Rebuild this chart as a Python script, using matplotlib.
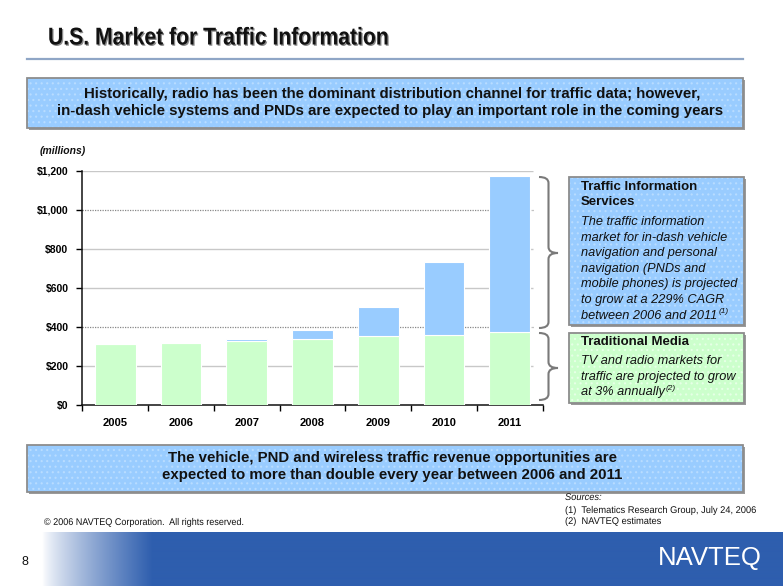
import matplotlib
matplotlib.use("Agg")
import matplotlib.pyplot as plt
import numpy as np
from matplotlib.patches import Rectangle, PathPatch
from matplotlib.path import Path
from matplotlib.transforms import Affine2D
from matplotlib.colors import to_rgba
import matplotlib.patheffects as pe

# ---------------- data ----------------
years = ["2005", "2006", "2007", "2008", "2009", "2010", "2011"]
traditional_media = [310, 320, 330, 338, 352, 358, 372]
traffic_info_services = [0, 0, 8, 46, 150, 375, 800]
y_ticks = [0, 200, 400, 600, 800, 1000, 1200]
y_tick_labels = ["$0", "$200", "$400", "$600", "$800", "$1,000", "$1,200"]
dotted_grid = [400, 1000]

W, H = 783, 586
SANS = ["Liberation Sans", "DejaVu Sans"]
plt.rcParams["hatch.linewidth"] = 0.8


class Condense(pe.AbstractPathEffect):
    """Horizontally condense text glyph paths (optionally as offset shadow)."""

    def __init__(self, sx, offset=(0, 0), color=None):
        super().__init__()
        self.sx = sx
        self.off = offset
        self.color = None if color is None else to_rgba(color)

    def draw_path(self, renderer, gc, tpath, affine, rgbFace=None):
        gc0 = renderer.new_gc()
        gc0.copy_properties(gc)
        face = rgbFace
        if self.color is not None:
            face = self.color
            gc0.set_foreground(self.color)
        ox = renderer.points_to_pixels(self.off[0])
        oy = renderer.points_to_pixels(self.off[1])
        aff = Affine2D().scale(self.sx, 1) + affine + Affine2D().translate(ox, oy)
        renderer.draw_path(gc0, tpath, aff, face)
        gc0.restore()


fig = plt.figure(figsize=(W / 100, H / 100), dpi=100)
fig.patch.set_facecolor("white")

bg = fig.add_axes([0, 0, 1, 1])
bg.set_xlim(0, W)
bg.set_ylim(H, 0)
bg.axis("off")

BLUE_BOX = "#99ccff"
GREEN_BOX = "#ccffcc"
INK = "#111111"


def box(x0, y0, x1, y1, color, dots):
    bg.add_patch(Rectangle((x0 + 2, y0 + 2), x1 - x0, y1 - y0, facecolor="#9a9a9a",
                           edgecolor="none", zorder=1))
    bg.add_patch(Rectangle((x0, y0), x1 - x0, y1 - y0, facecolor=color,
                           edgecolor="none", zorder=2))
    bg.add_patch(Rectangle((x0, y0), x1 - x0, y1 - y0, facecolor="none",
                           edgecolor=dots, hatch="...", linewidth=0, zorder=2))
    bg.add_patch(Rectangle((x0, y0), x1 - x0, y1 - y0, facecolor="none",
                           edgecolor="#8c8c8c", linewidth=1.3, zorder=2))


# title
bg.text(48, 38, "U.S. Market for Traffic Information", family=SANS, fontsize=17.5,
        fontweight="bold", color=INK, va="center", ha="left",
        path_effects=[Condense(0.87, offset=(0.9, -0.9), color="#8a8a8a"), Condense(0.87)])
bg.plot([27, 743], [59, 59], color="#8fa6c6", linewidth=1.6, zorder=2)

# top box
box(27, 78, 743, 128, BLUE_BOX, "#b8dcff")
bg.text(392, 94, "Historically, radio has been the dominant distribution channel for traffic data; however,",
        family=SANS, fontsize=10.8, fontweight="bold", color=INK, ha="center", va="center", zorder=3)
bg.text(390, 111, "in-dash vehicle systems and PNDs are expected to play an important role in the coming years",
        family=SANS, fontsize=10.8, fontweight="bold", color=INK, ha="center", va="center", zorder=3)

# bottom box
box(27, 445, 743, 492, BLUE_BOX, "#b8dcff")
bg.text(392, 458, "The vehicle, PND and wireless traffic revenue opportunities are",
        family=SANS, fontsize=10.8, fontweight="bold", color=INK, ha="center", va="center", zorder=3)
bg.text(392, 475, "expected to more than double every year between 2006 and 2011",
        family=SANS, fontsize=10.8, fontweight="bold", color=INK, ha="center", va="center", zorder=3)

# right side boxes
box(569, 177, 744, 325, BLUE_BOX, "#b8dcff")
box(569, 333, 744, 403, GREEN_BOX, "#e6ffe6")

bg.text(581, 187, "Traffic Information", family=SANS, fontsize=9.5, fontweight="bold",
        color=INK, va="center", zorder=3)
bg.text(581, 202, "Services", family=SANS, fontsize=9.5, fontweight="bold",
        color=INK, va="center", zorder=3)
tis_lines = ["The traffic information", "market for in-dash vehicle",
             "navigation and personal", "navigation (PNDs and",
             "mobile phones) is projected", "to grow at a 229% CAGR",
             "between 2006 and 2011"]
last_tis = None
for i, ln in enumerate(tis_lines):
    last_tis = bg.text(581, 222 + i * 15.6, ln, family=SANS, fontsize=9.2, style="italic",
                       color=INK, va="center", zorder=3)

bg.text(581, 342, "Traditional Media", family=SANS, fontsize=9.5, fontweight="bold",
        color=INK, va="center", zorder=3)
tm_lines = ["TV and radio markets for", "traffic are projected to grow", "at 3% annually"]
last_tm = None
for i, ln in enumerate(tm_lines):
    last_tm = bg.text(581, 361 + i * 15.6, ln, family=SANS, fontsize=9.2, style="italic",
                      color=INK, va="center", zorder=3)


def brace(x_end, x_tip, y0, y1, ym):
    xm = (x_end + x_tip) / 2
    r = 6
    verts = [(x_end, y0), (xm, y0), (xm, y0 + r), (xm, ym - r), (xm, ym), (x_tip, ym),
             (xm, ym), (xm, ym + r), (xm, y1 - r), (xm, y1), (x_end, y1)]
    codes = [Path.MOVETO, Path.CURVE3, Path.CURVE3, Path.LINETO, Path.CURVE3, Path.CURVE3,
             Path.CURVE3, Path.CURVE3, Path.LINETO, Path.CURVE3, Path.CURVE3]
    bg.add_patch(PathPatch(Path(verts, codes), facecolor="none", edgecolor="#7a7a7a",
                           linewidth=1.5, zorder=3))


brace(539, 558, 177, 328, 253)
brace(539, 558, 333, 400, 368)

# sources & copyright
cond = [Condense(0.955)]
bg.text(565, 497, "Sources:", family=SANS, fontsize=7, style="italic", color=INK, va="center",
        path_effects=cond)
bg.text(565, 510, "(1)  Telematics Research Group, July 24, 2006", family=SANS, fontsize=7,
        color=INK, va="center", path_effects=cond)
bg.text(565, 521, "(2)  NAVTEQ estimates", family=SANS, fontsize=7, color=INK, va="center",
        path_effects=cond)
bg.text(44, 522, "\u00a9 2006 NAVTEQ Corporation.  All rights reserved.", family=SANS, fontsize=7,
        color=INK, va="center", path_effects=[Condense(0.93)])

# footer band with gradient
blue = np.array([0x2e, 0x5e, 0xae]) / 255.0
xs = np.arange(42, W)
t = np.clip((xs - 42) / 110.0, 0, 1) ** 0.8
grad = (1 - t)[:, None] * np.array([1, 1, 1]) + t[:, None] * blue
img = np.repeat(grad[None, :, :], 2, axis=0)
bg.imshow(img, extent=(42, W, 586, 532), aspect="auto", zorder=1, interpolation="bilinear")
bg.set_xlim(0, W)
bg.set_ylim(H, 0)
bg.text(710, 558, "NAVTEQ", family=SANS, fontsize=18.5, color="white", ha="center", va="center",
        zorder=3)
bg.text(25, 562, "8", family=SANS, fontsize=9, color=INK, ha="center", va="center")

# ---------------- chart ----------------
ax = fig.add_axes([82.3 / W, 1 - 405 / H, 460.4 / W, (405 - 170.7) / H])
ax.set_facecolor("none")
x = np.arange(len(years))
ax.bar(x, traditional_media, width=0.62, color=GREEN_BOX, edgecolor="white", linewidth=0.8, zorder=3)
ax.bar(x, traffic_info_services, width=0.62, bottom=traditional_media, color=BLUE_BOX,
       edgecolor="white", linewidth=0.8, zorder=3)
ax.set_xlim(-0.5, len(years) - 0.5)
ax.set_ylim(0, 1200)
for yv in y_ticks[1:]:
    if yv in dotted_grid:
        ax.hlines(yv, -0.5, 6.35, colors="#888888", linestyles=(0, (1, 1)), linewidth=0.9, zorder=1)
    else:
        ax.hlines(yv, -0.5, 6.35, colors="#c8c8c8", linewidth=1.0, zorder=1)
ax.set_yticks(y_ticks)
ax.set_yticklabels(y_tick_labels, family=SANS, fontsize=7.5, fontweight="bold")
ax.set_xticks(x)
ax.set_xticklabels(years, family=SANS, fontsize=8, fontweight="bold")
ax.set_xticks(np.arange(-0.5, len(years)), minor=True)
ax.tick_params(axis="x", which="major", length=0, pad=9)
ax.tick_params(axis="x", which="minor", length=4, direction="out", width=1)
ax.tick_params(axis="y", length=4, direction="out", width=1, pad=6)
for s in ["top", "right"]:
    ax.spines[s].set_visible(False)
for s in ["left", "bottom"]:
    ax.spines[s].set_linewidth(1.1)
    ax.spines[s].set_color(INK)

bg.text(40, 151, "(millions)", family=SANS, fontsize=7.5, fontweight="bold", style="italic",
        color=INK, va="center")

# superscripts
fig.canvas.draw()
r = fig.canvas.get_renderer()
inv = bg.transData.inverted()
for txt, sup, yc in [(last_tis, "(1)", 222 + 6 * 15.6), (last_tm, "(2)", 361 + 2 * 15.6)]:
    bb = txt.get_window_extent(r)
    xr, _ = inv.transform((bb.x1, bb.y1))
    bg.text(xr + 1, yc - 4, sup, family=SANS, fontsize=6, style="italic", color=INK,
            va="center", zorder=3)

fig.savefig("out.png", dpi=100)
